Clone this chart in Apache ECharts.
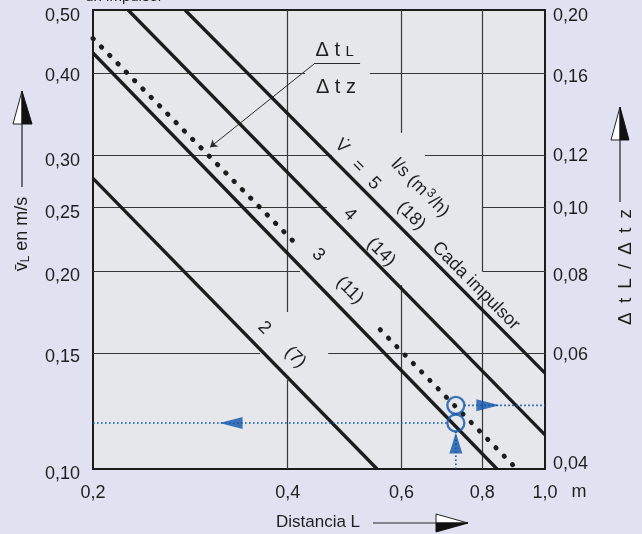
<!DOCTYPE html>
<html><head><meta charset="utf-8">
<script src="https://cdn.jsdelivr.net/npm/echarts@6/dist/echarts.min.js"></script>
<style>html,body{margin:0;padding:0;background:#e0e2f2}#c{width:642px;height:534px}</style>
</head><body><div id="c"></div>
<script>
// ---------------- data ----------------
const distanceTicks = [0.2, 0.4, 0.6, 0.8, 1.0];
const velocityTicks = [0.10, 0.15, 0.20, 0.25, 0.30, 0.40, 0.50];
const ratioTicks = [0.04, 0.06, 0.08, 0.10, 0.12, 0.16, 0.20];
// flow lines: [distance L (m), mean velocity vL (m/s)]
const flow2 = [[0.2, 0.277], [0.55, 0.10]];
const flow3 = [[0.2, 0.43], [0.843, 0.10]];
const flow4 = [[0.2266, 0.50], [1.0, 0.1127]];
const flow5 = [[0.2775, 0.50], [1.0, 0.140]];
// dotted Δt L / Δt z line (right axis), two pieces
const ratioA = [[0.2, 0.181], [0.418, 0.0868]];
const ratioB = [[0.556, 0.0652], [0.90, 0.0402]];
// worked example
const exampleL = 0.728, exampleV = 0.1175, exampleRatio = 0.05;

// ---------------- layout (not data) ----------------
const FONT = '"Liberation Sans", Arial, Helvetica, sans-serif';
const INK = '#1c1c1c';
const BLUE = '#0f55aa';
const hGridSegs = [[0.40,0.2,0.4256],[0.40,0.536,1.0],[0.30,0.2,0.468],[0.30,0.652,1.0],
  [0.25,0.2,0.460],[0.25,0.8,1.0],[0.20,0.2,0.418],[0.20,0.8,1.0],[0.15,0.2,0.3626],[0.15,0.462,1.0]];
const vGridSegs = [[0.4,0.5,0.1734],[0.4,0.1366,0.1],[0.6,0.5,0.325],[0.6,0.1906,0.1],
  [0.8,0.5,0.2],[0.8,0.181,0.1]];
const lineLabels = [
  ['2',[0.368,0.164]],['(7)',[0.411,0.148]],
  ['3',[0.446,0.212]],['(11)',[0.499,0.187]],
  ['4',[0.499,0.244]],['(14)',[0.558,0.214]],
  ['V\u0307',[0.485,0.310]],['=',[0.514,0.289]],['5',[0.544,0.272]],['(18)',[0.621,0.243]],
  ['l/s (m{sup|3}/h)',[0.641,0.268]],['Cada impulsor',[0.782,0.190]]
];
const leftLabelDy = [5, 4, 5, 5, 5, 2, 6];
const rightLabelDy = [-5, 2, 5, 1, 0, 3, 6];

const chart = echarts.init(document.getElementById('c'), null, {renderer:'canvas'});
const fmt1 = v => v.toFixed(1).replace('.', ',');
const fmt2 = v => v.toFixed(2).replace('.', ',');
const segData = [];
hGridSegs.forEach(s => segData.push([{coord:[s[1], s[0]]},{coord:[s[2], s[0]]}]));
vGridSegs.forEach(s => segData.push([{coord:[s[0], s[1]]},{coord:[s[0], s[2]]}]));

const flowLine = (d) => ({type:'line', data:d, showSymbol:false, silent:true, z:3,
  lineStyle:{color:INK, width:3.3, cap:'butt'}});
const dotted = (d) => ({type:'line', yAxisIndex:1, data:d, showSymbol:false, silent:true, z:3,
  lineStyle:{color:INK, width:4.8, type:[0.5, 11.3], cap:'round'}});
const blueLine = (d, yi) => ({type:'line', yAxisIndex:yi, data:d, showSymbol:false, silent:true, z:4,
  lineStyle:{color:BLUE, width:1.6, type:[1.6, 2.4]}});

const option = {
  animation:false,
  backgroundColor:'#e0e2f2',
  textStyle:{fontFamily:FONT},
  grid:{left:93, top:10, right:97, bottom:65, show:true, backgroundColor:'#e6e7ea',
        borderColor:INK, borderWidth:2},
  xAxis:{type:'log', logBase:10, min:0.2, max:1.0,
    axisLine:{show:true, lineStyle:{color:INK, width:2}}, axisTick:{show:false},
    splitLine:{show:false}, minorTick:{show:false}, minorSplitLine:{show:false},
    axisLabel:{customValues:distanceTicks, formatter:fmt1, color:'#222', fontSize:18, margin:15, fontFamily:FONT}},
  yAxis:[
    {type:'log', logBase:10, min:0.1, max:0.5, position:'left',
     axisLine:{show:true, lineStyle:{color:INK, width:2}}, axisTick:{show:false}, splitLine:{show:false},
     axisLabel:{show:false}},
    {type:'log', logBase:10, min:0.04, max:0.2, position:'right',
     axisLine:{show:true, lineStyle:{color:INK, width:2}}, axisTick:{show:false}, splitLine:{show:false},
     axisLabel:{show:false}}
  ],
  series:[
    {type:'line', data:[], silent:true, z:1,
     markLine:{silent:true, symbol:'none', z:1, label:{show:false},
       lineStyle:{color:'#383838', width:1.2, type:'solid'}, data:segData}},
    flowLine(flow2), flowLine(flow3), flowLine(flow4), flowLine(flow5),
    dotted(ratioA), dotted(ratioB),
    {type:'line', data:[], silent:true, z:3,
     markLine:{silent:true, symbol:'none', z:3, label:{show:false},
       lineStyle:{color:'#2a2a2a', width:1, type:'solid'},
       data:[
         [{coord:[0.441,0.415]},{coord:[0.5177,0.415]}],
         [{coord:[0.441,0.415], symbol:'none'},{coord:[0.3034,0.309], symbol:'arrow', symbolSize:7}]
       ]}},
    blueLine([[0.2, exampleV],[0.708, exampleV]], 0),
    blueLine([[exampleL, 0.1],[exampleL, 0.1143]], 0),
    blueLine([[0.75, exampleRatio],[1.0, exampleRatio]], 1),
    {type:'scatter', data:[[exampleL, exampleV]], symbol:'circle', symbolSize:17, silent:true, z:5,
     itemStyle:{color:'rgba(0,0,0,0)', borderColor:BLUE, borderWidth:2.3}},
    {type:'scatter', yAxisIndex:1, data:[[exampleL, exampleRatio]], symbol:'circle', symbolSize:17, silent:true, z:5,
     itemStyle:{color:'rgba(0,0,0,0)', borderColor:BLUE, borderWidth:2.3}},
    {type:'scatter', data:[[0.327, exampleV]], symbol:'triangle', symbolSize:[12,23], symbolRotate:90,
     silent:true, z:5, itemStyle:{color:BLUE}},
    {type:'scatter', data:[[exampleL, 0.1095]], symbol:'triangle', symbolSize:[13,21], symbolRotate:0,
     silent:true, z:5, itemStyle:{color:BLUE}},
    {type:'scatter', yAxisIndex:1, data:[[0.816, exampleRatio]], symbol:'triangle', symbolSize:[12,23], symbolRotate:-90,
     silent:true, z:5, itemStyle:{color:BLUE}}
  ]
};
chart.setOption(option);

// ---------------- text & decorations ----------------
const px = p => chart.convertToPixel({seriesIndex:1}, p);
const pxR = p => chart.convertToPixel({seriesIndex:5}, p);
const a = px(flow5[0]), b = px(flow5[1]);
const ang = Math.atan2(b[1]-a[1], b[0]-a[0]);
const TXT = '#1e1e1e';
const txt = (text, x, y, rot, size, extra) => Object.assign({type:'text', x:x, y:y, rotation:rot||0, z:10, silent:true,
  style:Object.assign({text:text, fill:TXT, font:(size||17)+'px '+FONT, fontSize:size||17, fontFamily:FONT,
    align:'center', verticalAlign:'middle', textAlign:'center', textVerticalAlign:'middle'}, extra||{})});
const graphics = [];
// y-axis tick labels, positioned through the axes' scales
velocityTicks.forEach((v, i) => { const p = px([0.2, v]);
  graphics.push(txt(fmt2(v), p[0]-13, p[1]+leftLabelDy[i], 0, 18, {align:'right', textAlign:'right'})); });
ratioTicks.forEach((v, i) => { const p = pxR([1.0, v]);
  graphics.push(txt(fmt2(v), p[0]+8, p[1]+rightLabelDy[i], 0, 18, {align:'left', textAlign:'left'})); });
// line labels
lineLabels.forEach(([t, at]) => { const p = px(at);
  graphics.push(txt(t, p[0], p[1], -ang, 18, {rich:{sup:{fontSize:13, fontFamily:FONT, fill:TXT, padding:[0,1,8,1]}}})); });
// fraction label
const f1 = px([0.473,0.4345]), f2 = px([0.475,0.3816]);
graphics.push(txt('{d|\u0394 t }{s|L}', f1[0], f1[1], 0, 19, {rich:{d:{fontSize:20, fontFamily:FONT, fill:TXT}, s:{fontSize:15, fontFamily:FONT, fill:TXT, padding:[4,0,0,0]}}}));
graphics.push(txt('\u0394 t z', f2[0], f2[1], 0, 20));
// axis titles
graphics.push(txt('{v|v\u0304}{s|L}{n| en m/s}', 22, 234, Math.PI/2, 18,
  {rich:{v:{fontSize:18, fontFamily:FONT, fill:TXT}, s:{fontSize:12, fontFamily:FONT, fill:TXT, padding:[7,0,0,0]}, n:{fontSize:18, fontFamily:FONT, fill:TXT}}}));
graphics.push(txt('\u0394\u2009 t\u2009 L\u2009 /\u2009 \u0394\u2009 t\u2009 z', 626, 267, Math.PI/2, 19));
graphics.push(txt('Distancia L', 318, 522, 0, 17));
graphics.push(txt('m', 579, 492, 0, 18));
graphics.push(txt('un impulsor', 124, 4, 0, 15, {verticalAlign:'bottom', textVerticalAlign:'bottom'}));
// arrows next to titles
const arrowStroke = {stroke:'#222', lineWidth:1.2};
graphics.push({type:'line', shape:{x1:22,y1:187,x2:22,y2:124}, style:arrowStroke, silent:true});
graphics.push({type:'polygon', shape:{points:[[22,91],[13,124],[22,124]]}, style:{fill:'#fff', stroke:'#222', lineWidth:1}, silent:true});
graphics.push({type:'polygon', shape:{points:[[22,91],[32,124],[22,124]]}, style:{fill:'#111', stroke:'#111', lineWidth:1}, silent:true});
graphics.push({type:'line', shape:{x1:620,y1:202,x2:620,y2:140}, style:arrowStroke, silent:true});
graphics.push({type:'polygon', shape:{points:[[620,107],[611,140],[620,140]]}, style:{fill:'#fff', stroke:'#222', lineWidth:1}, silent:true});
graphics.push({type:'polygon', shape:{points:[[620,107],[629,140],[620,140]]}, style:{fill:'#111', stroke:'#111', lineWidth:1}, silent:true});
graphics.push({type:'line', shape:{x1:373,y1:523,x2:436,y2:523}, style:arrowStroke, silent:true});
graphics.push({type:'polygon', shape:{points:[[468,523],[436,514],[436,523]]}, style:{fill:'#fff', stroke:'#222', lineWidth:1}, silent:true});
graphics.push({type:'polygon', shape:{points:[[468,523],[436,532],[436,523]]}, style:{fill:'#111', stroke:'#111', lineWidth:1}, silent:true});
chart.setOption({graphic:{elements:graphics}});
</script></body></html>
